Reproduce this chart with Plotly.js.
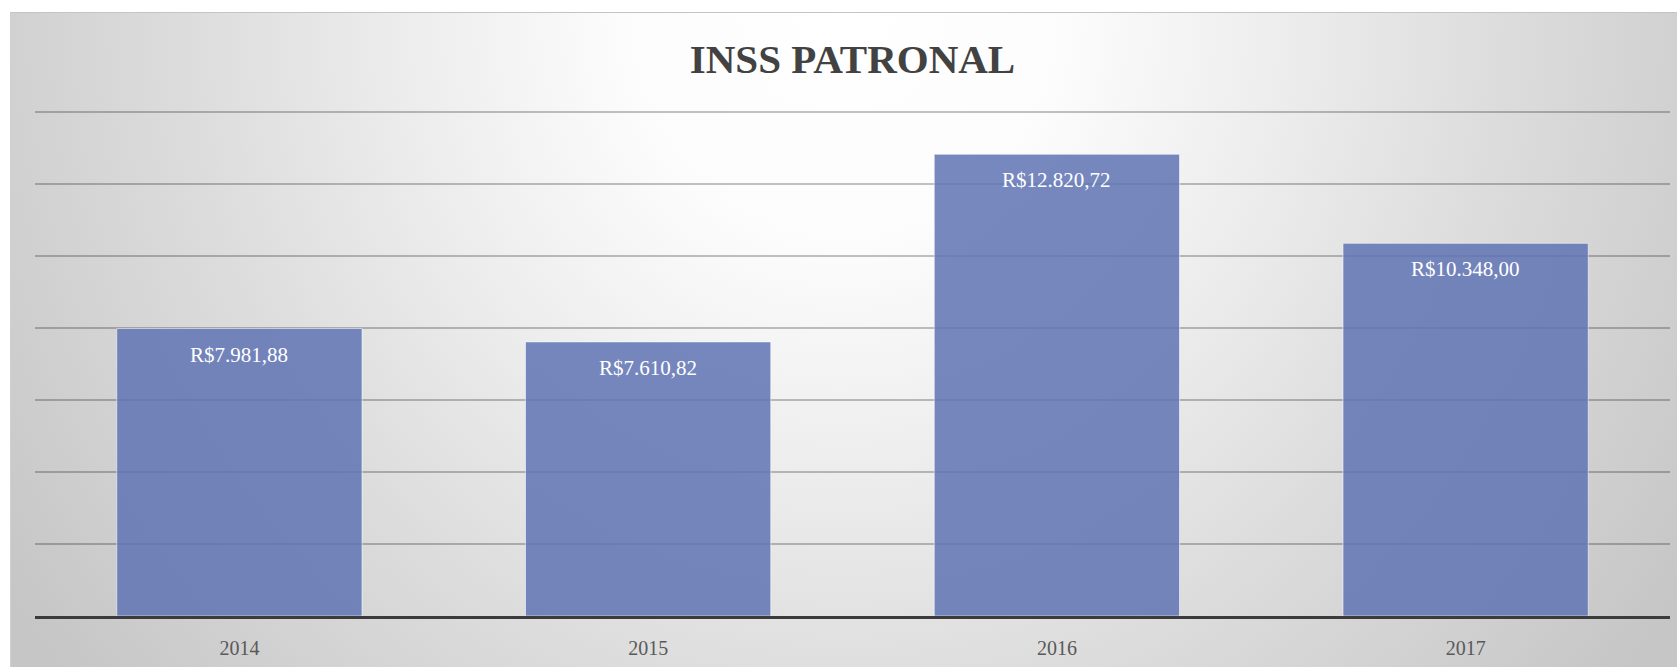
<!DOCTYPE html>
<html>
<head>
<meta charset="utf-8">
<script src="https://cdn.plot.ly/plotly-3.0.1.min.js"></script>
<style>
  html, body { margin: 0; padding: 0; background: #ffffff; }
  #wrap { position: relative; width: 1677px; height: 667px; overflow: hidden; background: #ffffff; }
  #bg { position: absolute; left: 10px; top: 12px; right: 0; bottom: 0;
        border-top: 1px solid #c4c4c4; border-left: 1px solid #d0d0d0;
        background: radial-gradient(ellipse 60% 160% at 50% 0%, #ffffff 0%, #fcfcfc 22%, #ececec 45%, #dddddd 65%, #d0d0d0 85%, #c6c6c6 100%); }
  #chart { position: absolute; left: 0; top: 0; width: 1677px; height: 667px; }
</style>
</head>
<body>
<div id="wrap">
  <div id="bg"></div>
  <div id="chart"></div>
</div>
<script>
const years = ['2014', '2015', '2016', '2017'];
const values = [7981.88, 7610.82, 12820.72, 10348.00];
const valueLabels = ['R$7.981,88', 'R$7.610,82', 'R$12.820,72', 'R$10.348,00'];
const chartTitle = 'INSS PATRONAL';

const serif = '"Liberation Serif", "DejaVu Serif", serif';

const trace = {
  type: 'bar',
  x: years,
  y: values,
  marker: {
    color: 'rgba(97,116,180,0.86)',
    line: { color: 'rgba(255,255,255,0.55)', width: 1 }
  },
  hoverinfo: 'none'
};

// on a category axis, annotation x is the category index
const annotations = years.map((yr, i) => ({
  x: i,
  y: values[i],
  xref: 'x',
  yref: 'y',
  text: valueLabels[i],
  showarrow: false,
  yanchor: 'top',
  yshift: -12,
  font: { family: serif, size: 21, color: '#ffffff' }
}));

const layout = {
  width: 1677,
  height: 667,
  margin: { l: 35, r: 7, t: 110, b: 51, pad: 0 },
  paper_bgcolor: 'rgba(0,0,0,0)',
  plot_bgcolor: 'rgba(0,0,0,0)',
  showlegend: false,
  bargap: 0.4,
  title: {
    text: '<b>' + chartTitle + '</b>',
    font: { family: serif, size: 41, color: '#424242' },
    x: 0.5,
    xref: 'paper',
    xanchor: 'center',
    y: 1 - 59 / 667,
    yref: 'container',
    yanchor: 'middle'
  },
  xaxis: {
    type: 'category',
    range: [-0.5, years.length - 0.5],
    showgrid: false,
    showline: true,
    linecolor: '#3b3b3b',
    linewidth: 2.5,
    ticks: '',
    ticklabelstandoff: 12,
    tickfont: { family: serif, size: 20, color: '#595959' },
    fixedrange: true
  },
  yaxis: {
    range: [0, 14050],
    dtick: 2000,
    tick0: 0,
    showgrid: true,
    gridcolor: 'rgba(0,0,0,0.24)',
    gridwidth: 1.5,
    showticklabels: false,
    zeroline: false,
    ticks: '',
    fixedrange: true
  },
  annotations: annotations
};

Plotly.newPlot('chart', [trace], layout, { displayModeBar: false, staticPlot: true });
</script>
</body>
</html>
